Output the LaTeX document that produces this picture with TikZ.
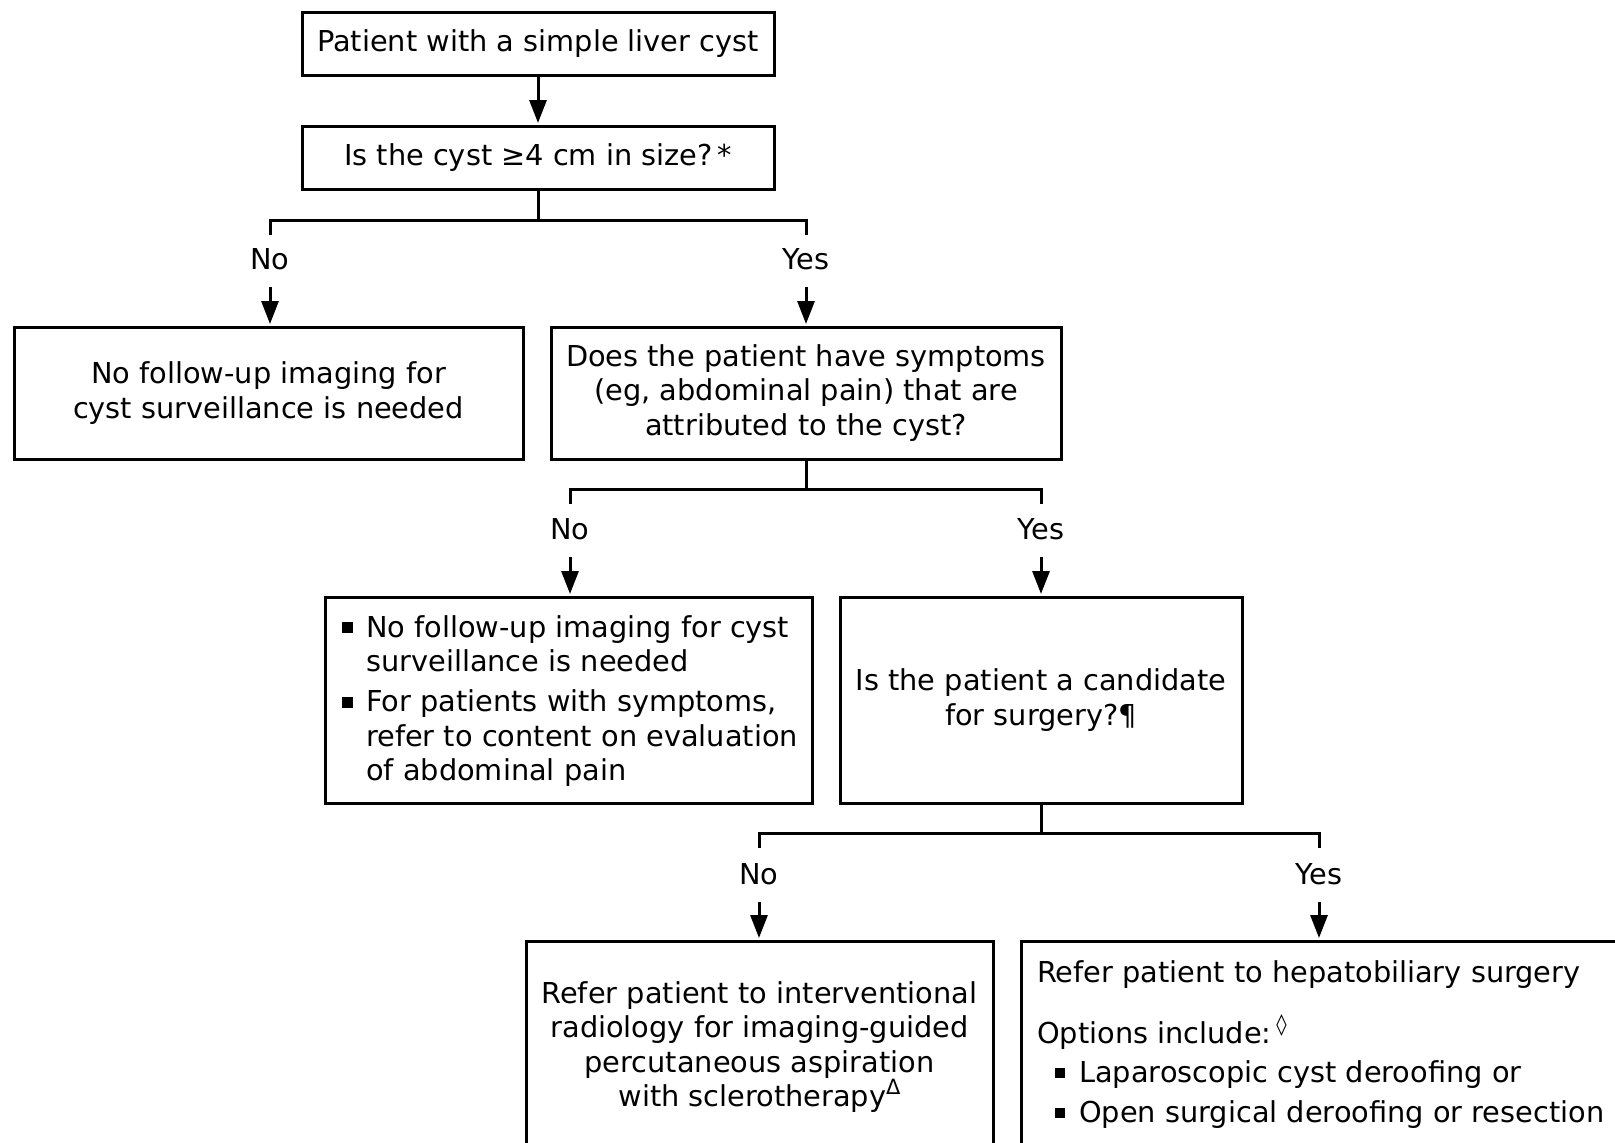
\documentclass[tikz,border=0pt]{standalone}
\usepackage{fontspec}
\setmainfont{DejaVu Sans}
\usetikzlibrary{arrows.meta,calc}
\newcommand{\mysup}[1]{\raisebox{0.40em}{\fontsize{21}{21}\selectfont #1}}
\newcommand{\bulA}{\makebox[24pt][l]{\rule[4pt]{11pt}{11pt}}}
\newcommand{\bulB}{\makebox[24pt][l]{\rule[4pt]{10pt}{10pt}}}
\newcommand{\ctrline}[1]{\hbox to 460pt{\hfil #1\hfil}}
\begin{document}
\begin{tikzpicture}[x=1pt,y=-1pt,
  every node/.style={font=\fontsize{28.8}{34.5}\selectfont, inner sep=0pt},
  box/.style={draw, line width=3pt, align=center},
  ln/.style={line width=3pt},
  arr/.style={line width=3pt, -{Triangle[length=23pt,width=17pt]}, shorten >=1.5pt},
  lbl/.style={anchor=base}]
\clip (0,0) rectangle (1615,1143);
\fill[white] (0,0) rectangle (1615,1143);

% boxes
\node[box, minimum width=472pt, minimum height=63pt] (b1) at (538,43.5) {Patient with a simple liver cyst};
\node[box, minimum width=472pt, minimum height=63pt] (b2) at (538,157.5) {Is the cyst ≥4 cm in size?\,*};
\node[box, minimum width=509pt, minimum height=132pt] (b3) at (268.5,393) {No follow-up imaging for\\cyst surveillance is needed};
\node[box, minimum width=510pt, minimum height=132pt] (b4) at (806,393) {Does the patient have symptoms\\(eg, abdominal pain) that are\\attributed to the cyst?};
\node[box, minimum width=487pt, minimum height=206pt] (b5) at (568.5,700) {};
\node[box, minimum width=402pt, minimum height=206pt] (b6) at (1041,700) {Is the patient a candidate\\for surgery?¶};
\node[box, minimum width=467pt, minimum height=300pt] (b7) at (759.5,1091) {};
\node[box, minimum width=699pt, minimum height=300pt] (b8) at (1370.5,1091) {};

% box texts
\node[anchor=base west] (t5) at (342,637) {\vtop{\baselineskip=34.5pt
  \hbox{\bulA No follow-up imaging for cyst}
  \hbox{\hspace{24pt}surveillance is needed}
  \vskip 5.5pt
  \hbox{\bulA For patients with symptoms,}
  \hbox{\hspace{24pt}refer to content on evaluation}
  \hbox{\hspace{24pt}of abdominal pain}}};
\node[anchor=base] (t7) at (759.5,1003) {\vtop{\baselineskip=34.5pt
  \ctrline{Refer patient to interventional}
  \ctrline{radiology for imaging-guided}
  \ctrline{percutaneous aspiration}
  \ctrline{with sclerotherapy\mysup{Δ}}}};
\node[anchor=base west] (t8) at (1037,982) {\vtop{\baselineskip=34.5pt
  \hbox{Refer patient to hepatobiliary surgery}
  \vskip 26.5pt
  \hbox{Options include:\,\mysup{◊}}
  \vskip 4.5pt
  \hbox{\hspace{18pt}\bulB Laparoscopic cyst deroofing or}
  \vskip 5.5pt
  \hbox{\hspace{18pt}\bulB Open surgical deroofing or resection}}};

% top arrow
\draw[arr] (b1.south) -- (b2.north);

% level 1
\draw[ln] (b2.south) -- ++(0,30) coordinate (j1);
\node[lbl] (n1) at (270,269) {No};
\node[lbl] (y1) at (806,269) {Yes};
\draw[ln] ($(j1 -| n1)+(0,14)$) -- (j1 -| n1) -- (j1 -| y1) -- ($(j1 -| y1)+(0,14)$);
\draw[arr] ($(n1.base)+(0,18)$) -- (n1.base |- b3.north);
\draw[arr] ($(y1.base)+(0,18)$) -- (y1.base |- b4.north);

% level 2
\draw[ln] (b4.south) -- ++(0,29) coordinate (j2);
\node[lbl] (n2) at (570,539) {No};
\node[lbl] (y2) at (1041,539) {Yes};
\draw[ln] ($(j2 -| n2)+(0,14)$) -- (j2 -| n2) -- (j2 -| y2) -- ($(j2 -| y2)+(0,14)$);
\draw[arr] ($(n2.base)+(0,18)$) -- (n2.base |- b5.north);
\draw[arr] ($(y2.base)+(0,18)$) -- (y2.base |- b6.north);

% level 3
\draw[ln] (b6.south) -- ++(0,29) coordinate (j3);
\node[lbl] (n3) at (759,884) {No};
\node[lbl] (y3) at (1319,884) {Yes};
\draw[ln] ($(j3 -| n3)+(0,14)$) -- (j3 -| n3) -- (j3 -| y3) -- ($(j3 -| y3)+(0,14)$);
\draw[arr] ($(n3.base)+(0,18)$) -- (n3.base |- b7.north);
\draw[arr] ($(y3.base)+(0,18)$) -- (y3.base |- b8.north);
\end{tikzpicture}
\end{document}
